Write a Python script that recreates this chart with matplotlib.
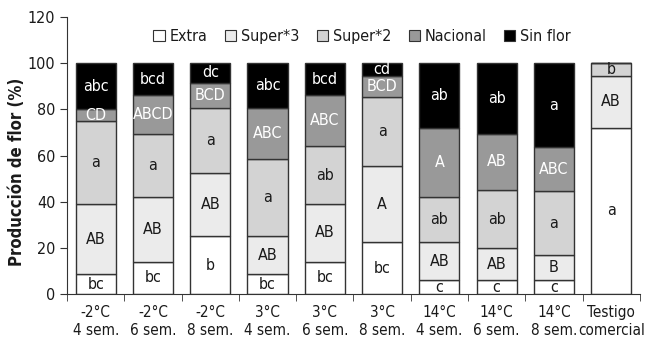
import matplotlib.pyplot as plt
import numpy as np
from matplotlib.patches import Patch

plt.rcParams["font.family"] = ["DejaVu Sans"]
plt.rcParams["font.stretch"] = "condensed"

groups = ["-2°C\n4 sem.", "-2°C\n6 sem.", "-2°C\n8 sem.", "3°C\n4 sem.", "3°C\n6 sem.",
          "3°C\n8 sem.", "14°C\n4 sem.", "14°C\n6 sem.", "14°C\n8 sem.", "Testigo\ncomercial"]

categories = ["Extra", "Super*3", "Super*2", "Nacional", "Sin flor"]

extra = [8.5, 14, 25, 8.5, 14, 22.5, 6, 6, 6, 72]
super3 = [30.5, 28, 27.5, 16.5, 25, 33, 16.5, 14, 11, 22.5]
super2 = [36, 27.5, 28, 33.5, 25, 30, 19.5, 25, 27.5, 5.5]
nacional = [5, 16.5, 11, 22, 22, 9, 30, 24.5, 19, 0]
sin_flor = [20, 14, 8.5, 19.5, 14, 5.5, 28, 30.5, 36.5, 0]

lbl_extra = ["bc", "bc", "b", "bc", "bc", "bc", "c", "c", "c", "a"]
lbl_super3 = ["AB", "AB", "AB", "AB", "AB", "A", "AB", "AB", "B", "AB"]
lbl_super2 = ["a", "a", "a", "a", "ab", "a", "ab", "ab", "a", "b"]
lbl_nacional = ["CD", "ABCD", "BCD", "ABC", "ABC", "BCD", "A", "AB", "ABC", ""]
lbl_sin_flor = ["abc", "bcd", "dc", "abc", "bcd", "cd", "ab", "ab", "a", ""]

series = [extra, super3, super2, nacional, sin_flor]
labels = [lbl_extra, lbl_super3, lbl_super2, lbl_nacional, lbl_sin_flor]
colors = ["#ffffff", "#ebebeb", "#d3d3d3", "#999999", "#000000"]
text_colors = ["#1a1a1a", "#1a1a1a", "#1a1a1a", "white", "white"]

fig = plt.figure(figsize=(6.45, 3.46), dpi=100)
ax = fig.add_axes([0.104, 0.150, 0.888, 0.801])

x = np.arange(len(groups))
bottom = np.zeros(len(groups))
for vals, lbls, color, tcol in zip(series, labels, colors, text_colors):
    vals = np.array(vals, dtype=float)
    ax.bar(x, vals, width=0.7, bottom=bottom, color=color, edgecolor="#333333",
           linewidth=1.0)
    for xi, b, v, t in zip(x, bottom, vals, lbls):
        if v <= 0 or not t:
            continue
        ax.text(xi, b + v / 2, t, ha="center", va="center", color=tcol,
                fontsize=11.5)
    bottom += vals

ax.set_xlim(-0.5, len(groups) - 0.5)
ax.set_ylim(0, 120)
ax.set_yticks(range(0, 121, 20))
ax.set_xticks(x)
ax.set_xticklabels(groups, fontsize=11, linespacing=1.2, color="#1a1a1a")
ax.set_xticks(np.arange(-0.5, len(groups)), minor=True)
ax.tick_params(axis="x", which="major", length=0, pad=8)
ax.tick_params(axis="x", which="minor", length=5, color="#333333")
ax.tick_params(axis="y", length=5, labelsize=11.5, color="#333333", labelcolor="#1a1a1a")
ax.spines["top"].set_visible(False)
ax.spines["right"].set_visible(False)
for s in ("left", "bottom"):
    ax.spines[s].set_color("#333333")
ax.set_ylabel("Producción de flor (%)", fontsize=12, fontweight="bold", color="#1a1a1a")
ax.yaxis.set_label_coords(-0.072, 0.44)

handles = [Patch(facecolor=c, edgecolor="#333333", linewidth=0.8) for c in colors]
ax.legend(handles, categories, loc="center", bbox_to_anchor=(0.515, 0.93), ncol=5,
          frameon=False, fontsize=11.5, handlelength=0.7, handleheight=0.7,
          handletextpad=0.3, columnspacing=1.1, borderaxespad=0,
          labelcolor="#1a1a1a")

fig.savefig("out.png", dpi=100)
